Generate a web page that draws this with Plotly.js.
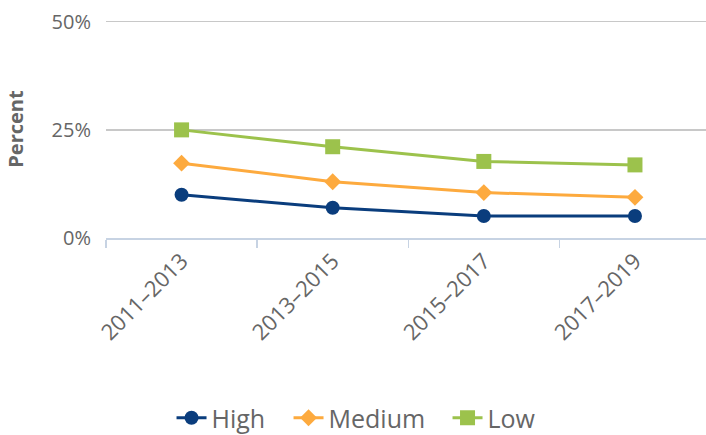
<!DOCTYPE html>
<html>
<head>
<meta charset="utf-8">
<script src="https://cdn.plot.ly/plotly-3.0.1.min.js"></script>
<style>html,body{margin:0;padding:0;background:#fff;}#chart{width:706px;height:435px;}</style>
</head>
<body>
<div id="chart"></div>
<script>
const categories = ["2011–2013", "2013–2015", "2015–2017", "2017–2019"];
const highValues = [10.0, 7.0, 5.1, 5.1];
const mediumValues = [17.3, 13.0, 10.5, 9.4];
const lowValues = [25.0, 21.1, 17.7, 16.9];
const yTickVals = [0, 25, 50];
const yTickText = ["0%", "25%", "50%"];

const font = "Open Sans, DejaVu Sans, sans-serif";
const grey = "#666666";

const traces = [
  {name: "High", x: categories, y: highValues, type: "scatter", mode: "lines+markers", legendwidth: 72,
   line: {color: "#0a3d7d", width: 3}, marker: {symbol: "circle", size: 14, color: "#0a3d7d"}},
  {name: "Medium", x: categories, y: mediumValues, type: "scatter", mode: "lines+markers", legendwidth: 114,
   line: {color: "#fdaa3e", width: 3}, marker: {symbol: "diamond", size: 13, color: "#fdaa3e"}},
  {name: "Low", x: categories, y: lowValues, type: "scatter", mode: "lines+markers",
   line: {color: "#9cc24c", width: 3}, marker: {symbol: "square", size: 15, color: "#9cc24c"}}
];

const layout = {
  width: 706, height: 435,
  margin: {l: 106, r: 0, t: 20, b: 197},
  paper_bgcolor: "#fff", plot_bgcolor: "#fff",
  font: {family: font, color: grey, size: 20},
  showlegend: true,
  legend: {orientation: "h", x: 0.505, xanchor: "center", xref: "container",
           y: 0.039, yanchor: "middle", yref: "container",
           font: {family: font, size: 25, color: grey}, itemwidth: 30, traceorder: "normal"},
  xaxis: {
    type: "category", range: [-0.5, 3.47],
    tickangle: -45, tickfont: {family: font, size: 22, color: grey},
    showline: true, linecolor: "#c7d3e3", linewidth: 1.5,
    ticks: "outside", tickson: "boundaries", ticklen: 8, tickcolor: "#c7d3e3", tickwidth: 1.5,
    showgrid: false, zeroline: false, fixedrange: true
  },
  yaxis: {
    range: [0, 50.4], tickvals: yTickVals, ticktext: yTickText,
    tickfont: {family: font, size: 20, color: grey},
    showgrid: true, gridcolor: "#c8c8c8", gridwidth: 1.5,
    showline: false, zeroline: false, ticks: "", ticklabelstandoff: 14,
    title: {text: "<b>Percent</b>", font: {family: font, size: 20, color: grey}, standoff: 22},
    fixedrange: true
  }
};

Plotly.newPlot("chart", traces, layout, {displayModeBar: false, staticPlot: true});
</script>
</body>
</html>
